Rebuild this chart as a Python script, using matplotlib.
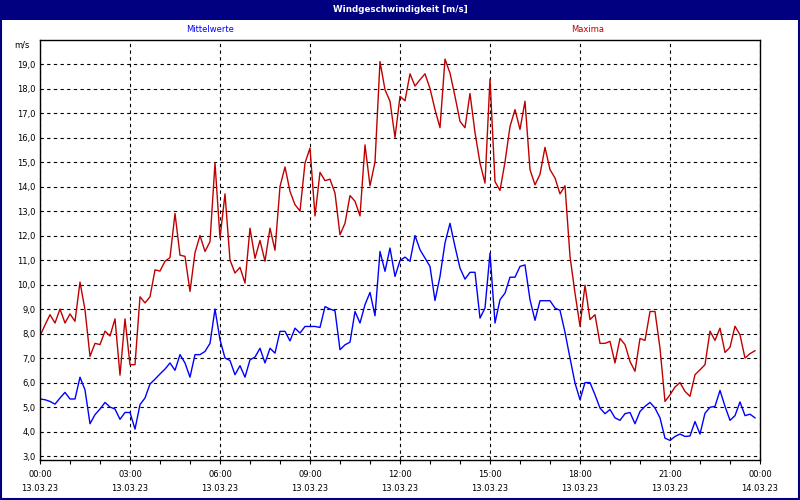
import numpy as np
import matplotlib
matplotlib.use('Agg')
import matplotlib.pyplot as plt
from matplotlib.patches import Rectangle
from matplotlib.ticker import FuncFormatter, MultipleLocator

# 10-minute values, 13.03.23 00:00 .. 23:50
maxima = [7.9, 8.35, 8.77, 8.43, 9.0, 8.43, 8.8, 8.5, 10.1, 8.97,
          7.07, 7.6, 7.55, 8.1, 7.9, 8.6, 6.3, 8.6, 6.73, 6.73,
          9.5, 9.25, 9.5, 10.6, 10.55, 10.95, 11.1, 12.9, 11.2, 11.15,
          9.72, 11.3, 12.0, 11.35, 11.75, 14.96, 11.9, 13.7, 11.0, 10.47,
          10.7, 10.06, 12.3, 11.07, 11.8, 10.95, 12.3, 11.4, 14.0, 14.8,
          13.8, 13.26, 13.0, 14.96, 15.57, 12.8, 14.58, 14.24, 14.3, 13.73,
          12.03, 12.5, 13.63, 13.4, 12.8, 15.7, 14.03, 15.0, 19.1, 17.95,
          17.48, 16.0, 17.68, 17.5, 18.6, 18.1, 18.36, 18.6, 18.0, 17.14,
          16.4, 19.2, 18.63, 17.68, 16.66, 16.4, 17.8, 16.2, 14.96, 14.14,
          18.39, 14.2, 13.84, 15.0, 16.45, 17.14, 16.33, 17.48, 14.69, 14.07,
          14.5, 15.6, 14.69, 14.35, 13.7, 14.03, 11.15, 9.65, 8.3, 9.97,
          8.57, 8.77, 7.6, 7.6, 7.68, 6.8, 7.8, 7.55, 6.86, 6.46,
          7.8, 7.72, 8.9, 8.9, 7.4, 5.23, 5.5, 5.82, 6.0, 5.64,
          5.44, 6.32, 6.52, 6.73, 8.1, 7.72, 8.22, 7.23, 7.44, 8.3,
          7.95, 7.0, 7.18, 7.3]

mittel = [5.33, 5.3, 5.23, 5.12, 5.37, 5.6, 5.33, 5.33, 6.22, 5.7,
          4.32, 4.69, 4.92, 5.19, 5.0, 4.92, 4.5, 4.78, 4.78, 4.1,
          5.1, 5.37, 5.94, 6.14, 6.35, 6.55, 6.8, 6.5, 7.14, 6.8,
          6.22, 7.14, 7.14, 7.27, 7.6, 9.0, 7.75, 7.0, 6.9, 6.32,
          6.69, 6.22, 6.93, 7.04, 7.4, 6.8, 7.4, 7.2, 8.09, 8.09,
          7.7, 8.22, 8.02, 8.29, 8.29, 8.29, 8.25, 9.1, 9.0, 8.93,
          7.34, 7.54, 7.65, 8.9, 8.43, 9.18, 9.68, 8.73, 11.35, 10.54,
          11.49, 10.33, 10.98, 11.12, 10.95, 12.0, 11.42, 11.08, 10.74, 9.35,
          10.33, 11.7, 12.5, 11.55, 10.67, 10.22, 10.5, 10.5, 8.63, 9.04,
          11.28, 8.43, 9.38, 9.65, 10.3, 10.3, 10.74, 10.8, 9.38, 8.54,
          9.34, 9.34, 9.34, 9.04, 8.95, 8.05, 7.0, 5.98, 5.3, 6.0,
          6.0, 5.5, 4.96, 4.73, 4.9, 4.56, 4.46, 4.73, 4.78, 4.32,
          4.82, 5.03, 5.19, 4.96, 4.56, 3.73, 3.64, 3.8, 3.9, 3.8,
          3.82, 4.41, 3.9, 4.75, 4.99, 5.03, 5.68, 5.03, 4.46, 4.65,
          5.21, 4.65, 4.71, 4.56]

hours = np.arange(len(maxima)) / 6.0
tick_hours = [0, 3, 6, 9, 12, 15, 18, 21, 24]
tick_labels = ['00:00\n13.03.23', '03:00\n13.03.23', '06:00\n13.03.23',
               '09:00\n13.03.23', '12:00\n13.03.23', '15:00\n13.03.23',
               '18:00\n13.03.23', '21:00\n13.03.23', '00:00\n14.03.23']

navy = '#000080'
fs = 6

fig = plt.figure(figsize=(8, 5), dpi=100)
fig.patch.set_facecolor('white')

# title bar and window frame
fig.patches.append(Rectangle((0, 1 - 20 / 500), 1, 20 / 500, transform=fig.transFigure,
                             facecolor=navy, edgecolor='none', zorder=0))
fig.patches.append(Rectangle((0.001, 0.002), 0.998, 0.997, transform=fig.transFigure,
                             facecolor='none', edgecolor=navy, lw=1.5, zorder=5))
fig.text(0.5, 1 - 9.5 / 500, 'Windgeschwindigkeit [m/s]', color='white', fontsize=6.3,
         fontweight='bold', ha='center', va='center')

ax = fig.add_axes([40 / 800, 40 / 500, 720 / 800, 420 / 500])
ax.plot(hours, mittel, color='#0000FF', lw=1.0)
ax.plot(hours, maxima, color='#C00000', lw=1.0)

ax.set_xlim(0, 24)
ax.set_ylim(2.84, 19.98)
ax.yaxis.set_major_locator(MultipleLocator(1))
ax.yaxis.set_major_formatter(FuncFormatter(lambda v, p: f'{v:.1f}'.replace('.', ',')))
ax.set_xticks(tick_hours)
ax.set_xticklabels(tick_labels, linespacing=1.75)
ax.xaxis.set_minor_locator(MultipleLocator(1))
ax.tick_params(axis='x', which='both', direction='out', length=3, width=0.8,
               labelsize=fs, pad=4, colors='black')
ax.tick_params(axis='y', length=0, labelsize=fs, pad=3, colors='black')
ax.grid(True, color='black', linestyle=(0, (3, 3)), lw=0.8)
for s in ax.spines.values():
    s.set_linewidth(1.0)

fig.text(30 / 800, 1 - 45 / 500, 'm/s', fontsize=fs, ha='right', va='center')
fig.text(210 / 800, 1 - 30 / 500, 'Mittelwerte', fontsize=fs, color='#0000FF',
         ha='center', va='center')
fig.text(588 / 800, 1 - 30 / 500, 'Maxima', fontsize=fs, color='#C00000',
         ha='center', va='center')

plt.savefig('out.png', dpi=100)
